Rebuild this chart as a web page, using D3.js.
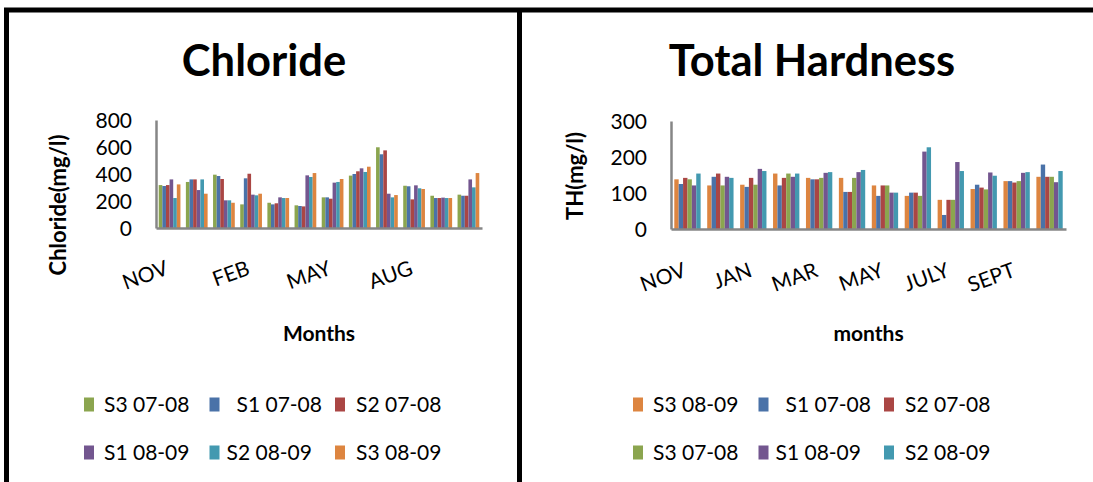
<!DOCTYPE html>
<html>
<head>
<meta charset="utf-8">
<script src="https://cdn.jsdelivr.net/npm/d3@7"></script>
<style>
  body { margin: 0; background: #fff; }
  svg { display: block; }
  text { font-family: Lato, "Open Sans", sans-serif; fill: #000; }
</style>
</head>
<body>
<svg id="chart" width="1093" height="482"></svg>
<script>
// Sampling months (Nov to Oct)
const months = ["NOV", "DEC", "JAN", "FEB", "MAR", "APR", "MAY", "JUNE", "JULY", "AUG", "SEPT", "OCT"];

// Chloride (mg/l)
const clS3_0708 = [318, 341, 395, 175, 187, 168, 227, 388, 598, 313, 239, 247];
const clS1_0708 = [311, 360, 385, 368, 175, 163, 227, 400, 546, 309, 222, 239];
const clS2_0708 = [318, 360, 363, 402, 183, 160, 217, 420, 575, 212, 222, 239];
const clS1_0809 = [360, 281, 205, 247, 227, 390, 336, 442, 254, 316, 225, 360];
const clS2_0809 = [222, 360, 205, 242, 222, 378, 341, 415, 227, 294, 222, 301];
const clS3_0809 = [323, 254, 187, 254, 222, 407, 363, 454, 244, 289, 222, 407];
const clTicks = [0, 200, 400, 600, 800];

// Total hardness (mg/l)
const thS3_0809 = [138, 121, 123, 154, 142, 142, 121, 92, 81, 111, 133, 145];
const thS1_0708 = [125, 145, 117, 121, 138, 103, 92, 101, 39, 123, 133, 179];
const thS2_0708 = [142, 154, 142, 142, 138, 103, 121, 101, 81, 115, 129, 145];
const thS3_0708 = [138, 121, 123, 154, 142, 142, 121, 92, 81, 110, 133, 145];
const thS1_0809 = [121, 145, 167, 145, 156, 158, 101, 215, 186, 157, 156, 130];
const thS2_0809 = [154, 142, 161, 154, 158, 164, 101, 227, 161, 148, 158, 161];
const thTicks = [0, 100, 200, 300];

const col = {
  green: "#8ba54f", blue: "#4a72a8", red: "#aa4644",
  purple: "#73568f", teal: "#4399b0", orange: "#dd8540"
};

const svg = d3.select("#chart");

// panel frame
const frame = svg.append("g").attr("stroke", "#000").attr("stroke-width", 5);
frame.append("line").attr("x1", 4).attr("x2", 1093).attr("y1", 10).attr("y2", 10);
frame.append("line").attr("x1", 6.5).attr("x2", 6.5).attr("y1", 8).attr("y2", 482);
frame.append("line").attr("x1", 519.5).attr("x2", 519.5).attr("y1", 8).attr("y2", 482);

function drawChart(cfg) {
  const g = svg.append("g");
  const x = d3.scaleBand().domain(months).range([cfg.left, cfg.right])
    .paddingInner(0.2).paddingOuter(0.1);
  const x1 = d3.scaleBand().domain(cfg.series.map(s => s.name))
    .range([0, x.bandwidth()]);
  const y = d3.scaleLinear().domain([0, cfg.yMax]).range([cfg.bottom, cfg.top]);

  // bars
  cfg.series.forEach(s => {
    g.append("g").selectAll("rect").data(s.values).join("rect")
      .attr("x", (d, i) => x(months[i]) + x1(s.name))
      .attr("width", x1.bandwidth())
      .attr("y", d => y(d))
      .attr("height", d => y(0) - y(d))
      .attr("fill", s.color);
  });

  // y axis
  const ya = g.append("g").attr("transform", `translate(${cfg.left},0)`)
    .call(d3.axisLeft(y).tickValues(cfg.yTicks).tickSize(0).tickPadding(24));
  ya.select(".domain").attr("stroke", "#868686").attr("stroke-width", 2.5);
  ya.selectAll("text").style("font-size", "21px").style("font-family", "Lato").attr("dy", "0.36em");

  // x axis
  const xa = g.append("g").attr("transform", `translate(0,${cfg.bottom})`)
    .call(d3.axisBottom(x).tickSize(0)
      .tickFormat((d, i) => i % cfg.labelEvery === 0 ? d : ""));
  xa.select(".domain").attr("stroke", "#868686").attr("stroke-width", 2.5);
  xa.selectAll("text")
    .style("font-size", "21px").style("font-family", "Lato")
    .attr("text-anchor", "end").attr("y", 0).attr("dy", 0)
    .attr("transform", `translate(0,${cfg.labelDrop}) rotate(-20)`);

  // titles
  g.append("text").attr("x", cfg.titleX).attr("y", 76).attr("text-anchor", "middle")
    .style("font-size", "43.5px").style("font-weight", "bold").text(cfg.title);
  g.append("text").attr("transform", `translate(${cfg.yTitleX},${cfg.yTitleY}) rotate(-90)`)
    .attr("text-anchor", "middle").style("font-size", "22px").style("font-weight", "bold")
    .text(cfg.yTitle);
  g.append("text").attr("x", (cfg.left + cfg.right) / 2).attr("y", 341)
    .attr("text-anchor", "middle").style("font-size", "21px").style("font-weight", "bold")
    .text(cfg.xTitle);

  // legend, two rows of three
  const colStep = 125.5;
  const textOff = [[20, 27, 21], [20, 17, 21]];
  cfg.series.forEach((s, i) => {
    const r = Math.floor(i / 3), c = i % 3;
    const sx = cfg.legendX + c * colStep;
    const cy = 404.5 + r * 48;
    g.append("rect").attr("x", sx).attr("y", cy - 7).attr("width", 10).attr("height", 14)
      .attr("fill", s.color);
    g.append("text").attr("x", sx + textOff[r][c]).attr("y", cy + 7.5)
      .style("font-size", "21px").text(s.name);
  });
}

drawChart({
  left: 156, right: 482, bottom: 228, top: 120, yMax: 800, yTicks: clTicks,
  labelEvery: 3, labelDrop: 46,
  title: "Chloride", titleX: 264,
  yTitle: "Chloride(mg/l)", yTitleX: 66, yTitleY: 205,
  xTitle: "Months", legendX: 84,
  series: [
    { name: "S3 07-08", color: col.green, values: clS3_0708 },
    { name: "S1 07-08", color: col.blue, values: clS1_0708 },
    { name: "S2 07-08", color: col.red, values: clS2_0708 },
    { name: "S1 08-09", color: col.purple, values: clS1_0809 },
    { name: "S2 08-09", color: col.teal, values: clS2_0809 },
    { name: "S3 08-09", color: col.orange, values: clS3_0809 }
  ]
});

drawChart({
  left: 671, right: 1066, bottom: 229, top: 121, yMax: 300, yTicks: thTicks,
  labelEvery: 2, labelDrop: 47,
  title: "Total Hardness", titleX: 812,
  yTitle: "TH(mg/l)", yTitleX: 583, yTitleY: 176,
  xTitle: "months", legendX: 633,
  series: [
    { name: "S3 08-09", color: col.orange, values: thS3_0809 },
    { name: "S1 07-08", color: col.blue, values: thS1_0708 },
    { name: "S2 07-08", color: col.red, values: thS2_0708 },
    { name: "S3 07-08", color: col.green, values: thS3_0708 },
    { name: "S1 08-09", color: col.purple, values: thS1_0809 },
    { name: "S2 08-09", color: col.teal, values: thS2_0809 }
  ]
});
</script>
</body>
</html>
